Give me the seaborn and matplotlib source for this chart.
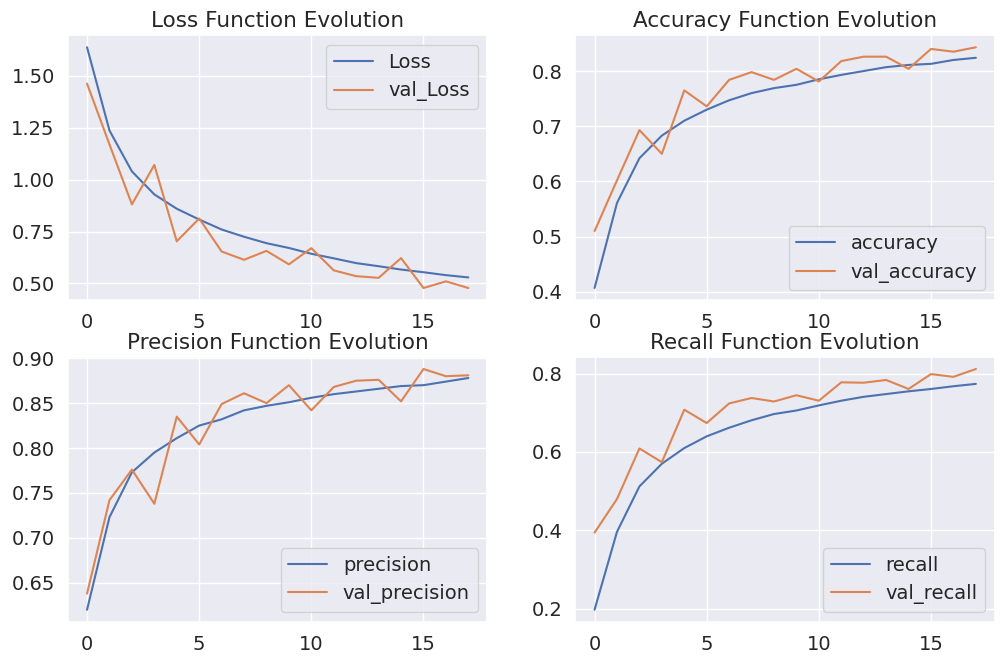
import numpy as np
import pandas as pd
import matplotlib
matplotlib.use("Agg")
import matplotlib.pyplot as plt
import seaborn as sns

epochs = list(range(18))

loss = [1.638, 1.237, 1.040, 0.929, 0.860, 0.808, 0.760, 0.725, 0.694,
        0.671, 0.643, 0.621, 0.598, 0.583, 0.567, 0.554, 0.540, 0.529]
val_loss = [1.463, 1.170, 0.881, 1.071, 0.703, 0.813, 0.654, 0.614, 0.657,
            0.592, 0.670, 0.563, 0.535, 0.527, 0.622, 0.478, 0.510, 0.478]

accuracy = [0.407, 0.561, 0.642, 0.683, 0.710, 0.730, 0.747, 0.760, 0.769,
            0.775, 0.785, 0.793, 0.800, 0.807, 0.811, 0.813, 0.820, 0.824]
val_accuracy = [0.510, 0.602, 0.693, 0.650, 0.765, 0.736, 0.784, 0.798, 0.784,
                0.804, 0.781, 0.818, 0.826, 0.826, 0.804, 0.840, 0.835, 0.843]

precision = [0.620, 0.723, 0.773, 0.795, 0.811, 0.825, 0.832, 0.842, 0.847,
             0.851, 0.856, 0.860, 0.863, 0.866, 0.869, 0.870, 0.874, 0.878]
val_precision = [0.638, 0.742, 0.776, 0.738, 0.835, 0.804, 0.849, 0.861, 0.850,
                 0.870, 0.842, 0.868, 0.875, 0.876, 0.852, 0.888, 0.880, 0.881]

recall = [0.197, 0.396, 0.512, 0.570, 0.610, 0.640, 0.662, 0.681, 0.697,
          0.706, 0.719, 0.731, 0.741, 0.748, 0.755, 0.761, 0.768, 0.774]
val_recall = [0.394, 0.480, 0.609, 0.574, 0.708, 0.674, 0.724, 0.738, 0.729,
              0.745, 0.731, 0.778, 0.777, 0.784, 0.761, 0.799, 0.792, 0.812]

sns.set_theme(style="darkgrid")
plt.rcParams['font.family'] = ['DejaVu Sans']

fig, axs = plt.subplots(2, 2, figsize=(10.07, 6.65), dpi=100)
plt.subplots_adjust(left=0.0675, right=0.988, top=0.947, bottom=0.065,
                    wspace=0.21, hspace=0.215)

panels = [
    (axs[0, 0], loss, val_loss, 'Loss', 'val_Loss', 'Loss Function Evolution', 'upper right'),
    (axs[0, 1], accuracy, val_accuracy, 'accuracy', 'val_accuracy', 'Accuracy Function Evolution', 'lower right'),
    (axs[1, 0], precision, val_precision, 'precision', 'val_precision', 'Precision Function Evolution', 'lower right'),
    (axs[1, 1], recall, val_recall, 'recall', 'val_recall', 'Recall Function Evolution', 'lower right'),
]

for ax, train, val, lab, vlab, title, loc in panels:
    df = pd.DataFrame({'epoch': epochs, lab: train, vlab: val})
    sns.lineplot(x='epoch', y=lab, data=df, ax=ax, label=lab, linewidth=1.5)
    sns.lineplot(x='epoch', y=vlab, data=df, ax=ax, label=vlab, linewidth=1.5)
    ax.set_title(title, fontsize=15.5)
    ax.set_xlabel('')
    ax.set_ylabel('')
    ax.set_xticks([0, 5, 10, 15])
    ax.tick_params(labelsize=14)
    ax.legend(loc=loc, fontsize=14)

axs[1, 1].set_yticks([0.2, 0.4, 0.6, 0.8])

fig.savefig('out.png', dpi=100)
